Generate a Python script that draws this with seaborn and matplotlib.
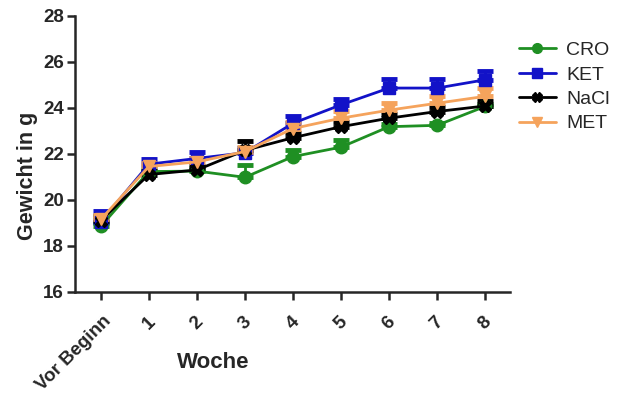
import numpy as np
import pandas as pd
import matplotlib
matplotlib.use('Agg')
import matplotlib.pyplot as plt
import matplotlib.transforms as mtransforms
import seaborn as sns

# Datos (peso medio en g y error superior)
wochen = ['Vor Beginn', '1', '2', '3', '4', '5', '6', '7', '8']
gruppen = ['CRO', 'KET', 'NaCl', 'MET']

cro_mean = [18.85, 21.23, 21.25, 20.98, 21.88, 22.29, 23.18, 23.24, 24.06]
cro_err = [0.15, 0.12, 0.12, 0.55, 0.3, 0.3, 0.12, 0.12, 0.12]
ket_mean = [19.05, 21.55, 21.8, 22.05, 23.33, 24.13, 24.86, 24.86, 25.22]
ket_err = [0.45, 0.22, 0.28, 0.2, 0.32, 0.27, 0.4, 0.4, 0.38]
nacl_mean = [19.1, 21.1, 21.3, 22.15, 22.7, 23.18, 23.55, 23.84, 24.08]
nacl_err = [0.2, 0.15, 0.15, 0.4, 0.2, 0.2, 0.2, 0.2, 0.2]
met_mean = [19.15, 21.45, 21.65, 22.1, 23.1, 23.55, 23.9, 24.2, 24.5]
met_err = [0.2, 0.15, 0.15, 0.2, 0.3, 0.33, 0.3, 0.32, 0.36]

colores = {'CRO': '#1f8f23', 'KET': '#1212c8', 'NaCl': '#000000', 'MET': '#f5a35c'}
marcadores = {'CRO': 'o', 'KET': 's', 'NaCl': 'X', 'MET': 'v'}

medias = {'CRO': cro_mean, 'KET': ket_mean, 'NaCl': nacl_mean, 'MET': met_mean}
errores = {'CRO': cro_err, 'KET': ket_err, 'NaCl': nacl_err, 'MET': met_err}

df = pd.concat([
    pd.DataFrame({'pos': np.arange(len(wochen)), 'gewicht': medias[g],
                  'err': errores[g], 'gruppe': g})
    for g in gruppen
], ignore_index=True)

sns.set_style('ticks')
plt.rcParams['font.family'] = ['Liberation Sans', 'DejaVu Sans']

fig = plt.figure(figsize=(6.19, 3.96), dpi=100)
ax = fig.add_axes([0.121, 0.263, 0.703, 0.697])

# Barras de error (solo hacia arriba, estilo GraphPad)
for g in gruppen:
    d = df[df['gruppe'] == g]
    ax.errorbar(d['pos'], d['gewicht'], yerr=[np.zeros(len(d)), d['err']],
                fmt='none', ecolor=colores[g], elinewidth=2,
                capsize=6, capthick=3.5, zorder=2)

n_antes = len(ax.lines)
sns.lineplot(data=df, x='pos', y='gewicht', hue='gruppe', style='gruppe',
             hue_order=gruppen, style_order=gruppen, palette=colores,
             markers=marcadores, dashes=False, markersize=9,
             linewidth=2, ax=ax, zorder=3)

# Marcadores sin borde blanco (solo las lineas de seaborn)
for ln in ax.lines[n_antes:]:
    ln.set_markeredgecolor(ln.get_color())
    ln.set_markeredgewidth(1)

ax.set_xlim(-0.54, 8.52)
ax.set_ylim(16, 28)
ax.set_yticks(np.arange(16, 29, 2))
ax.set_xticks(np.arange(len(wochen)))

ax.spines['top'].set_visible(False)
ax.spines['right'].set_visible(False)
ax.spines['left'].set_linewidth(1.8)
ax.spines['bottom'].set_linewidth(1.8)
ax.tick_params(axis='both', width=1.8, length=6, pad=2)

ax.set_xticklabels(wochen, rotation=45, rotation_mode='anchor',
                   fontweight='bold')
for i, lbl in enumerate(ax.get_xticklabels()):
    if i == 0:
        lbl.set_fontsize(13.5)
        lbl.set_ha('right')
        lbl.set_va('center')
        off = mtransforms.ScaledTranslation(8 / 100, -15 / 100, fig.dpi_scale_trans)
    else:
        lbl.set_fontsize(13.5)
        lbl.set_ha('center')
        lbl.set_va('center')
        off = mtransforms.ScaledTranslation(0, -20 / 100, fig.dpi_scale_trans)
    lbl.set_transform(lbl.get_transform() + off)
for lbl in ax.get_yticklabels():
    lbl.set_fontsize(13.5)
    lbl.set_fontweight('bold')

ax.set_xlabel('Woche', fontsize=16, fontweight='bold')
ax.set_ylabel('Gewicht in g', fontsize=15.5, fontweight='bold')
ax.xaxis.set_label_coords(0.317, -0.257)
ax.yaxis.set_label_coords(-0.108, 0.42)
ax.xaxis.label.set_va('center')
ax.yaxis.label.set_va('center')

leg = ax.legend(loc='upper left', bbox_to_anchor=(0.98, 0.97), frameon=False,
                fontsize=14, handlelength=1.9, labelspacing=0.35,
                handletextpad=0.55)
for h in leg.legend_handles:
    h.set_markersize(7)
    h.set_markeredgecolor(h.get_color())
    h.set_linewidth(2)

fig.savefig('out.png', dpi=100)
plt.close(fig)
